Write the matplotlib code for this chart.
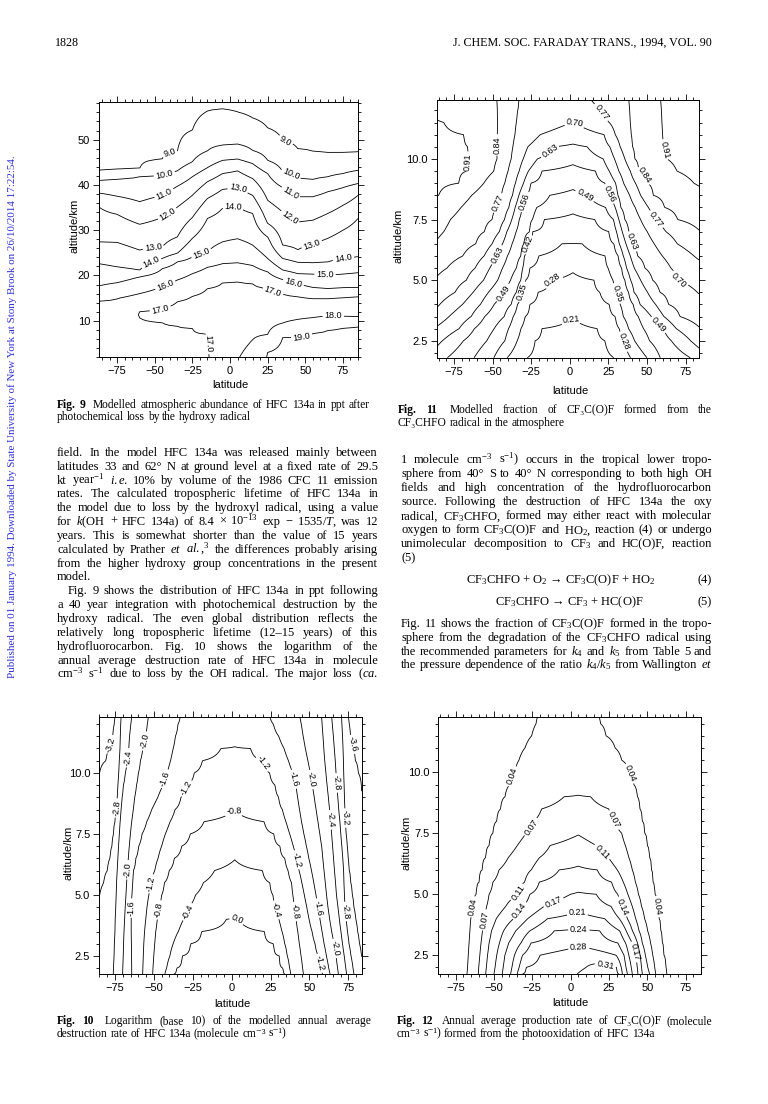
import numpy as np
import matplotlib
matplotlib.use("Agg")
import matplotlib.pyplot as plt
from matplotlib.ticker import MultipleLocator, FormatStrFormatter

plt.rcParams['font.family'] = ['Liberation Sans', 'DejaVu Sans']
plt.rcParams['mathtext.fontset'] = 'custom'
plt.rcParams['mathtext.rm'] = 'Liberation Serif'
plt.rcParams['mathtext.it'] = 'Liberation Serif:italic'
plt.rcParams['mathtext.bf'] = 'Liberation Serif:bold'
plt.rcParams['contour.negative_linestyle'] = 'solid'
SERIF = ['Liberation Serif', 'DejaVu Serif']
W, H = 768, 1104
N = None

# ---------------- Fig. 9 : HFC 134a abundance (ppt), column profiles ----------------
F9_LEVELS = [9, 10, 11, 12, 13, 14, 15, 16, 17, 18, 19]
F9_LAT = [-87, -75, -60, -45, -35, -25, -15, -5, 5, 15, 25, 35, 45, 55, 65, 75, 85]
F9_PROF_ALT = [
    [2, 14.4, 17.7, 22.6, 27.4, 35.1, 38.2, 41.0, 43.2, 58.3],
    [2, 14.9, 18.4, 21.9, 27.3, 33.5, 37.5, 41.25, 43.4, 58.3],
    [2, 10.7, 11.3, 12.0, 16.0, 19.7, 21.2, 25.6, 31.3, 36.3, 41.8, 43.6, 58.3],
    [2, 9.6, 11.2, 12.7, 17.5, 21.5, 23.75, 26.3, 32.8, 37.7, 42.1, 45.7, 58.3],
    [2, 8.8, 11.5, 14.2, 19.0, 23.0, 24.9, 28.5, 35.1, 39.7, 43.1, 47.3, 58.3],
    [2, 8.3, 12.0, 15.4, 20.4, 24.1, 28.2, 32.8, 37.7, 41.8, 45.1, 52.1, 58.3],
    [2, 7.0, 12.0, 17.1, 21.8, 25.2, 32.6, 37.0, 40.7, 43.8, 47.5, 56.3, 58.3],
    [2, 10.0, 18.4, 22.6, 27.4, 34.8, 39.0, 42.5, 45.4, 48.8, 56.8, 58.3],
    [2, 18.6, 22.8, 28.1, 35.3, 39.4, 43.1, 45.7, 49.0, 56.1, 58.3],
    [2, 5.8, 18.2, 22.2, 26.7, 33.7, 37.7, 41.4, 44.7, 47.6, 54.8, 58.3],
    [2, 3.0, 7.0, 17.1, 20.8, 23.75, 28.5, 31.5, 36.6, 42.5, 45.4, 52.6, 58.3],
    [2, 6.3, 9.5, 15.9, 19.1, 21.2, 23.75, 26.7, 34.0, 39.4, 42.9, 49.9, 58.3],
    [2, 6.4, 10.3, 15.3, 18.1, 20.4, 22.9, 25.7, 31.8, 37.4, 41.5, 48.0, 58.3],
    [2, 7.2, 10.7, 14.9, 17.35, 20.3, 22.8, 26.9, 32.2, 37.4, 41.2, 47.4, 58.3],
    [2, 7.9, 11.1, 14.9, 17.1, 20.1, 23.0, 28.2, 33.7, 38.5, 41.8, 47.1, 58.3],
    [2, 8.4, 11.0, 15.1, 17.3, 20.3, 23.75, 30.0, 35.5, 39.4, 42.5, 47.1, 58.3],
    [2, 8.7, 10.9, 15.3, 17.35, 20.6, 24.1, 32.6, 37.7, 40.3, 43.2, 47.3, 58.3],
]
F9_PROF_VAL = [
    [16.7, 16, 15, 14, 13, 12, 11, 10, 9, 8.4],
    [16.7, 16, 15, 14, 13, 12, 11, 10, 9, 8.4],
    [16.8, 17, 17.05, 17, 16, 15, 14, 13, 12, 11, 10, 9, 8.4],
    [16.8, 17, 17.15, 17, 16, 15, 14, 13, 12, 11, 10, 9, 8.5],
    [16.85, 17, 17.25, 17, 16, 15, 14, 13, 12, 11, 10, 9, 8.6],
    [16.9, 17, 17.35, 17, 16, 15, 14, 13, 12, 11, 10, 9, 8.7],
    [16.95, 17, 17.45, 17, 16, 15, 14, 13, 12, 11, 10, 9, 8.9],
    [17.4, 17.6, 17, 16, 15, 14, 13, 12, 11, 10, 9, 8.9],
    [17.95, 17, 16, 15, 14, 13, 12, 11, 10, 9, 8.85],
    [18.3, 18, 17, 16, 15, 14, 13, 12, 11, 10, 9, 8.7],
    [19.05, 19, 18, 17, 16, 15, 14, 13, 12, 11, 10, 9, 8.6],
    [19.3, 19, 18, 17, 16, 15, 14, 13, 12, 11, 10, 9, 8.5],
    [19.4, 19, 18, 17, 16, 15, 14, 13, 12, 11, 10, 9, 8.4],
    [19.5, 19, 18, 17, 16, 15, 14, 13, 12, 11, 10, 9, 8.4],
    [19.55, 19, 18, 17, 16, 15, 14, 13, 12, 11, 10, 9, 8.4],
    [19.6, 19, 18, 17, 16, 15, 14, 13, 12, 11, 10, 9, 8.4],
    [19.6, 19, 18, 17, 16, 15, 14, 13, 12, 11, 10, 9, 8.4],
]
F9_LABEL_POS = [(-39.8, 46.5), (36.5, 49.5), (-43.1, 41.8), (39.8, 41.8), (-44.2, 38.3),
                (39.8, 38.0), (5.5, 39.4), (-42.0, 33.8), (2.2, 35.3), (39.8, 32.9),
                (-50.9, 26.2), (54.2, 27.0), (75.2, 24.0), (-52.0, 22.6), (-18.8, 24.7),
                (63.1, 20.1), (-43.1, 17.9), (42.0, 18.3), (28.8, 16.7), (-46.5, 12.9),
                (68.6, 11.1), (47.6, 6.5), (-14.4, 5.0)]

# ---------------- Fig. 11 : fraction of CF3C(O)F, row profiles ----------------
F11_ALT = [1.8, 2.5, 3.0, 3.5, 4.0, 4.5, 5.0, 5.5, 6.0, 6.5, 7.0, 7.5, 8.0, 8.5, 9.0, 9.5,
           10.0, 10.5, 11.0, 11.5, 12.0, 12.43]
F11_LEVELS = [0.21, 0.28, 0.35, 0.42, 0.49, 0.56, 0.63, 0.70, 0.77, 0.84, 0.91]
F11_LEFT = {
    0.91: [N]*13 + [-84.9, -71.9, -66.5, -65.0, -66.1, -68.7, -81.6, N, N],
    0.84: [N]*10 + [-81.6, -77.3, -70.4, -63.5, -55.7, -49.2, -47.1, -47.1, -46.9, -46.7, -46.9, -47.1],
    0.77: [N]*7 + [-79.5, -69.3, -60.9, -55.3, -50.3, -47.1, -44.3, -42.1, -40.0, -38.0, -36.9,
                   -35.6, -34.8, -33.9, -33.0],
    0.70: [N]*4 + [-84.2, -74.3, -67.0, -61.3, -55.5, -50.3, -45.6, -42.3, -39.5, -37.1, -35.2,
                   -32.8, -30.2, -27.2, -19.2] + [N]*3,
    0.63: [N]*3 + [-78.2, -69.5, -62.6, -55.9, -51.8, -47.3, -43.6, -40.8, -37.6, -35.4, -33.0,
                   -30.0, -26.8, -21.0, -9.9] + [N]*4,
    0.56: [N] + [-82.5, -71.7, -63.9, -57.9, -52.7, -46.7, -43.6, -40.4, -37.4, -34.8, -32.8,
                 -30.9, -28.3, -25.3, -18.1] + [N]*6,
    0.49: [-79.3, -68.9, -61.8, -55.1, -49.0, -42.3, -38.4, -34.6, -31.7, -29.8, -26.1, -24.2,
           -21.4, -13.0] + [N]*8,
    0.42: [-62.0, -53.8, -49.0, -42.5, -38.0, -34.6, -31.7, -30.5, -29.4, -27.6, -24.0, -16.6] + [N]*10,
    0.35: [-49.2, -42.1, -39.7, -36.7, -33.9, -31.1, -28.7, -25.9, -20.1, -5.2] + [N]*12,
    0.28: [-40.6, -34.1, -31.7, -28.9, -25.9, -20.5, -11.2] + [N]*15,
    0.21: [-27.6, -22.5, -18.1] + [N]*19,
}
F11_RIGHT = {
    0.21: [28.5, 22.7, 17.7] + [N]*19,
    0.28: [39.3, 34.8, 32.0, 29.4, 25.5, 19.4, 15.6] + [N]*15,
    0.35: [49.9, 41.9, 38.0, 34.6, 32.6, 30.5, 27.9, 24.8, 22.9, 8.0] + [N]*12,
    0.42: [58.5, 51.6, 47.7, 44.3, 41.0, 38.0, 35.6, 33.5, 31.3, 28.5, 25.3, 16.2] + [N]*10,
    0.49: [78.0, 65.7, 60.5, 52.7, 45.4, 41.5, 39.3, 36.7, 34.6, 32.0, 30.2, 28.3, 23.1, 10.8] + [N]*8,
    0.56: [N] + [78.2, 68.9, 60.9, 55.5, 50.3, 45.8, 41.7, 39.1, 36.3, 33.9, 31.7, 29.4, 26.8,
                 22.7, 16.6] + [N]*6,
    0.63: [N]*3 + [71.3, 63.9, 58.3, 53.6, 48.6, 43.8, 40.8, 38.2, 35.6, 33.0, 31.1, 29.6, 25.5,
                   21.6, 11.2] + [N]*4,
    0.70: [N]*5 + [82.5, 70.6, 65.4, 59.8, 54.6, 50.1, 45.8, 42.3, 38.7, 34.8, 31.7, 28.9, 25.9,
                   22.2] + [N]*3,
    0.77: [N]*8 + [80.3, 69.5, 62.2, 55.3, 50.8, 45.8, 42.5, 39.1, 35.6, 32.6, 29.4, 25.5, 20.1, 13.8],
    0.84: [N]*11 + [69.8, 61.3, 54.0, 50.3, 44.7, 42.1, 40.6, 39.7, 39.1, 38.7, 38.2],
    0.91: [N]*14 + [80.3, 69.3, 62.9, 60.5, 60.0, 59.6, 59.2, 58.7],
}
F11_CENTER_LAT = 2.0
F11_CENTER = [0.16, 0.18, 0.195, 0.212, 0.23, 0.249, 0.267, 0.288, 0.318, 0.349, 0.378, 0.405,
              0.437, 0.474, 0.508, 0.541, 0.577, 0.621, 0.661, 0.698, 0.725, 0.745]
F11_EDGE_L = [0.53, 0.575, 0.62, 0.67, 0.71, 0.74, 0.763, 0.785, 0.81, 0.835, 0.85, 0.865, 0.885,
              0.911, 0.92, 0.925, 0.927, 0.925, 0.92, 0.913, 0.90, 0.89]
F11_EDGE_R = [0.52, 0.59, 0.625, 0.66, 0.68, 0.703, 0.725, 0.75, 0.78, 0.81, 0.837, 0.86, 0.877,
              0.895, 0.915, 0.93, 0.94, 0.945, 0.95, 0.95, 0.95, 0.95]
F11_LABEL_POS = [(2.6, 11.47), (21.0, 11.95), (-66.5, 9.9), (-47.1, 10.58), (-14.0, 10.4),
                 (47.0, 9.27), (60.9, 10.37), (-46.0, 8.17), (-29.8, 8.24), (10.2, 8.55),
                 (26.3, 8.59), (55.5, 7.49), (-27.6, 6.52), (-47.1, 6.04), (40.4, 6.59),
                 (-11.4, 5.01), (70.6, 5.01), (-42.8, 4.46), (-30.9, 4.53), (30.7, 4.46),
                 (0.4, 3.43), (57.5, 3.16), (35.0, 2.47)]

# ---------------- Fig. 10 : log10 destruction rate, row profiles ----------------
F10_ALT = [1.76, 2.0, 2.5, 3.0, 3.5, 4.0, 4.5, 5.0, 5.5, 6.0, 6.5, 7.0, 7.5, 8.0, 8.5, 9.0,
           9.5, 10.0, 10.5, 11.0, 11.5, 12.0, 12.29]
F10_LEVELS = [-3.6, -3.2, -2.8, -2.4, -2.0, -1.6, -1.2, -0.8, -0.4, 0.0]
F10_LEFT = {
    -3.2: [N]*17 + [-84.9, -80.8, -78.2, -76.3, -75.4, -75.0],
    -2.8: [N]*7 + [-84.9, -82.3, -79.9, -78.2, -76.9, -75.9, -75.0, -74.1, -73.5, -73.1, -72.6,
                   -72.2, -71.8, -71.6, -71.4, -71.1],
    -2.4: [-76.1, -75.9, -75.6, -75.3, -75.0, -74.8, -74.5, -74.2, -74.0, -73.6, -73.2, -72.8,
           -72.3, -71.8, -71.1, -70.5, -69.6, -68.4, -67.1, -66.2, -65.7, -64.9, -64.3],
    -2.0: [-70.1, -70.0, -69.7, -69.5, -69.2, -68.8, -68.4, -67.9, -67.5, -67.0, -66.4, -65.8,
           -65.1, -64.3, -63.3, -62.4, -61.2, -60.0, -58.7, -57.2, -55.3, -54.3, -53.6],
    -1.6: [-64.3, -64.3, -64.4, -64.5, -64.6, -64.6, -64.7, -64.2, -63.7, -63.2, -61.6, -59.8,
           -57.6, -54.6, -51.4, -47.5, -44.1, -41.4, -39.3, -37.6, -36.2, -34.5, -33.2],
    -1.2: [-57.2, -57.1, -56.8, -56.5, -56.0, -55.2, -54.4, -53.2, -51.9, -49.4, -47.3, -45.0,
           -42.6, -39.6, -36.4, -32.6, -28.6, -24.0, -18.8, -6.9] + [N]*3,
    -0.8: [-50.8, -50.6, -50.1, -49.5, -48.9, -47.9, -46.8, -45.0, -43.3, -40.2, -36.9, -32.1,
           -26.6, -17.8] + [N]*9,
    -0.4: [-42.9, -41.8, -39.7, -37.6, -34.3, -31.0, -27.4, -23.2, -18.2, -11.0] + [N]*13,
    0.0: [-37.1, -35.4, -31.8, -26.4, -19.3, -3.4] + [N]*17,
}
F10_RIGHT = {
    0.0: [34.3, 33.0, 30.6, 26.9, 21.0, 4.5] + [N]*17,
    -0.4: [37.9, 37.2, 35.7, 34.1, 32.4, 30.4, 28.5, 26.5, 24.5, 19.8] + [N]*13,
    -0.8: [46.1, 45.6, 44.6, 43.5, 42.5, 41.4, 40.4, 39.4, 38.5, 36.3, 34.2, 31.0, 27.1, 20.9] + [N]*9,
    -1.2: [58.5, 57.5, 55.6, 53.6, 51.7, 49.8, 48.3, 46.7, 45.1, 43.3, 41.6, 39.6, 37.3, 34.9,
           32.6, 30.2, 27.9, 24.4, 19.9, 12.2] + [N]*3,
    -1.6: [63.2, 62.4, 60.9, 59.4, 58.1, 56.8, 55.6, 54.2, 52.8, 51.3, 49.6, 48.0, 46.4, 44.9,
           43.6, 42.4, 41.3, 39.3, 36.5, 33.7, 30.3, 26.8, 24.6],
    -2.0: [68.6, 68.1, 67.1, 65.9, 64.3, 63.0, 61.9, 61.0, 60.2, 59.4, 58.6, 57.9, 56.7, 55.5,
           54.3, 53.1, 51.9, 50.6, 49.0, 47.4, 46.0, 44.8, 43.9],
    -2.4: [73.9, 73.4, 72.4, 71.3, 70.3, 69.3, 68.4, 67.4, 66.8, 66.1, 65.5, 64.9, 64.3, 63.7,
           63.0, 62.2, 61.4, 60.6, 59.9, 59.3, 58.8, 58.2, 57.9],
    -2.8: [78.6, 78.0, 76.7, 75.4, 74.4, 73.5, 72.8, 72.5, 72.2, 72.0, 71.5, 70.9, 70.2, 69.6,
           68.9, 68.3, 67.6, 67.1, 66.6, 66.0, 65.4, 64.7, 64.3],
    -3.2: [N]*2 + [83.5, 82.2, 81.0, 79.8, 78.6, 77.6, 76.6, 75.6, 74.8, 74.2, 73.6, 73.0, 72.7,
                   72.4, 72.2, 72.0, 71.8, 71.6, 71.3, 70.9, 70.7],
    -3.6: [N]*16 + [83.4, 81.4, 79.5, 77.7, 76.2, 75.6, 75.0],
}
F10_CENTER_LAT = 2.0
F10_CENTER = [0.30, 0.27, 0.20, 0.14, 0.08, 0.01, -0.07, -0.16, -0.24, -0.33, -0.41, -0.51,
              -0.61, -0.71, -0.81, -0.89, -0.96, -1.03, -1.11, -1.19, -1.26, -1.33, -1.37]
F10_EDGE_L = [-2.6, -2.62, -2.64, -2.67, -2.7, -2.74, -2.77, -2.81, -2.86, -2.9, -2.95, -3.0,
              -3.04, -3.08, -3.11, -3.14, -3.17, -3.205, -3.25, -3.3, -3.34, -3.38, -3.4]
F10_EDGE_R = [-3.1, -3.13, -3.205, -3.25, -3.29, -3.33, -3.37, -3.4, -3.43, -3.46, -3.49, -3.51,
              -3.53, -3.55, -3.57, -3.59, -3.61, -3.63, -3.65, -3.67, -3.69, -3.71, -3.72]
F10_LABEL_POS = [(-77.1, 11.16), (-66.9, 10.62), (-55.7, 11.3), (-42.4, 9.75), (-29.6, 9.38),
                 (-73.9, 8.56), (1.1, 8.45), (21.0, 10.41), (40.7, 9.75), (51.4, 9.73),
                 (67.5, 9.59), (77.1, 11.16), (63.6, 8.08), (72.9, 8.15), (-67.1, 6.03),
                 (-52.1, 5.46), (41.8, 6.44), (-64.7, 4.46), (-47.1, 4.39), (-28.9, 4.32),
                 (3.2, 3.95), (28.9, 4.39), (40.7, 4.32), (55.7, 4.46), (72.9, 4.32),
                 (66.4, 2.81), (56.8, 2.2)]

# ---------------- Fig. 12 : production rate of CF3C(O)F, row profiles ----------------
F12_ALT = [1.73, 2.0, 2.5, 3.0, 3.5, 4.0, 4.5, 5.0, 5.5, 6.0, 6.5, 7.0, 7.5, 8.0, 8.5, 9.0,
           9.5, 10.0, 10.5, 11.0, 11.5, 12.0, 12.27]
F12_LEVELS = [0.035, 0.07, 0.105, 0.14, 0.175, 0.21, 0.245, 0.28, 0.315]
F12_LABELS = ["0.04", "0.07", "0.11", "0.14", "0.17", "0.21", "0.24", "0.28", "0.31"]
F12_LEFT = {
    0.035: [-67.4, -67.1, -66.7, -66.1, -65.5, -64.9, -63.3, -61.5, -59.6, -57.6, -55.4, -53.1,
            -50.7, -48.2, -45.7, -42.8, -39.5, -36.5, -33.7, -29.8, -25.4, -22.5, -21.7],
    0.07: [-60.2, -59.9, -59.2, -58.4, -57.4, -56.3, -54.8, -53.2, -50.7, -46.7, -40.7, -34.8,
           -29.0, -23.9, -18.9, -4.3] + [N]*7,
    0.105: [-55.4, -55.0, -54.2, -53.2, -51.6, -48.5, -42.4, -34.3, -30.0, -25.7, -20.4, -13.4] + [N]*11,
    0.14: [-50.0, -49.3, -48.2, -46.4, -43.7, -37.2, -31.0, -26.6, -20.5, -7.5] + [N]*13,
    0.175: [-44.6, -44.0, -42.9, -40.4, -35.8, -28.0, -17.4, -0.1] + [N]*15,
    0.21: [-39.1, -38.3, -36.6, -32.4, -26.6, -15.0] + [N]*17,
    0.245: [-34.8, -33.6, -31.4, -25.9, -10.7] + [N]*18,
    0.28: [-31.5, -29.1, -20.0] + [N]*20,
    0.315: [4.3, 10.0] + [N]*21,
}
F12_RIGHT = {
    0.315: [31.5, 30.1] + [N]*21,
    0.28: [33.7, 33.0, 29.6] + [N]*20,
    0.245: [37.0, 36.1, 34.8, 30.8, 19.0] + [N]*18,
    0.21: [40.2, 39.5, 37.9, 35.8, 32.0, 22.2] + [N]*17,
    0.175: [43.9, 43.5, 42.6, 40.1, 36.2, 31.7, 26.4, 16.7] + [N]*15,
    0.14: [46.7, 46.2, 45.3, 43.6, 40.3, 37.0, 33.7, 30.7, 26.7, 17.4] + [N]*13,
    0.105: [51.5, 50.3, 48.7, 46.7, 44.6, 42.4, 40.2, 37.3, 34.3, 30.4, 24.6, 16.7] + [N]*11,
    0.07: [55.4, 54.8, 53.5, 52.1, 50.2, 48.2, 46.2, 44.2, 42.2, 40.2, 38.0, 35.7, 33.3, 28.7,
           24.9, 13.0] + [N]*7,
    0.035: [62.6, 62.0, 60.8, 59.8, 58.8, 57.6, 56.5, 54.9, 53.7, 52.7, 51.4, 49.9, 48.3, 46.7,
            45.1, 43.5, 41.2, 38.7, 33.3, 29.0, 23.0, 19.4, 18.5],
}
F12_CENTER_LAT = [18, 18, 10] + [5]*20
F12_CENTER = [0.33, 0.325, 0.305, 0.27, 0.249, 0.222, 0.20, 0.178, 0.16, 0.144, 0.131, 0.118,
              0.103, 0.092, 0.082, 0.071, 0.063, 0.057, 0.052, 0.049, 0.047, 0.046, 0.045]
F12_EDGE_L = [0.02]*23
F12_EDGE_R = [0.02]*23
F12_LABEL_POS = [(-37.4, 9.82), (39.1, 9.96), (-26.1, 7.77), (28.3, 8.05), (20.7, 6.75),
                 (-33.7, 5.04), (-62.6, 4.43), (56.5, 4.49), (-32.6, 4.29), (-10.9, 4.63),
                 (4.3, 4.29), (33.7, 4.49), (-56.5, 3.95), (5.4, 3.61), (5.4, 2.92),
                 (42.4, 2.65), (22.8, 2.15)]

# ---------------- page text ----------------
HEADER_LEFT = "1828"
HEADER_RIGHT = "J. CHEM. SOC. FARADAY TRANS., 1994, VOL. 90"
WATERMARK = ("Published on 01 January 1994. Downloaded by State University of New York at "
             "Stony Brook on 26/10/2014 17:22:54.")
LEFT_TEXT = [
    ("field. In the model HFC 134a was released mainly between", True, 0),
    ("latitudes 33 and 62° N at ground level at a fixed rate of 29.5", True, 0),
    (r"kt year$^{-1}$ $\mathit{i.e.}$ 10% by volume of the 1986 CFC 11 emission", True, 0),
    ("rates. The calculated tropospheric lifetime of HFC 134a in", True, 0),
    ("the model due to loss by the hydroxyl radical, using a value", True, 0),
    (r"for $k$(OH + HFC 134a) of 8.4 × 10$^{-13}$ exp − 1535/$T$, was 12", True, 0),
    ("years. This is somewhat shorter than the value of 15 years", True, 0),
    (r"calculated by Prather $\mathit{et}$ $\mathit{al.}$,$^3$ the differences probably arising", True, 0),
    ("from the higher hydroxy group concentrations in the present", True, 0),
    ("model.", False, 0),
    ("Fig. 9 shows the distribution of HFC 134a in ppt following", True, 11),
    ("a 40 year integration with photochemical destruction by the", True, 0),
    ("hydroxy radical. The even global distribution reflects the", True, 0),
    ("relatively long tropospheric lifetime (12–15 years) of this", True, 0),
    ("hydrofluorocarbon. Fig. 10 shows the logarithm of the", True, 0),
    ("annual average destruction rate of HFC 134a in molecule", True, 0),
    (r"cm$^{-3}$ s$^{-1}$ due to loss by the OH radical. The major loss ($\mathit{ca.}$", True, 0),
]
RIGHT_TEXT = [
    (r"1 molecule cm$^{-3}$ s$^{-1}$) occurs in the tropical lower tropo-", True, 459.0),
    ("sphere from 40° S to 40° N corresponding to both high OH", True, 473.2),
    ("fields and high concentration of the hydrofluorocarbon", True, 487.3),
    ("source. Following the destruction of HFC 134a the oxy", True, 501.3),
    (r"radical, CF$_3$CHFO, formed may either react with molecular", True, 515.3),
    (r"oxygen to form CF$_3$C(O)F and HO$_2$, reaction (4) or undergo", True, 529.3),
    (r"unimolecular decomposition to CF$_3$ and HC(O)F, reaction", True, 543.3),
    ("(5)", False, 556.8),
    (r"Fig. 11 shows the fraction of CF$_3$C(O)F formed in the tropo-", True, 622.7),
    (r"sphere from the degradation of the CF$_3$CHFO radical using", True, 636.7),
    (r"the recommended parameters for $k_4$ and $k_5$ from Table 5 and", True, 650.7),
    (r"the pressure dependence of the ratio $k_4/k_5$ from Wallington $\mathit{et}$", True, 664.3),
]
EQ4 = r"CF$_3$CHFO + O$_2$ → CF$_3$C(O)F + HO$_2$"
EQ5 = r"CF$_3$CHFO → CF$_3$ + HC(O)F"
CAPTIONS = [
    ("Fig. 9 Modelled atmospheric abundance of HFC 134a in ppt after",
     "photochemical loss by the hydroxy radical", 57, 370, 404.0),
    ("Fig. 11 Modelled fraction of CF₃C(O)F formed from the",
     "CF₃CHFO radical in the atmosphere", 398, 712, 409.5),
    ("Fig. 10 Logarithm (base 10) of the modelled annual average",
     "destruction rate of HFC 134a (molecule cm⁻³ s⁻¹)", 57, 371, 1020.5),
    ("Fig. 12 Annual average production rate of CF₃C(O)F (molecule",
     "cm⁻³ s⁻¹) formed from the photooxidation of HFC 134a", 397, 712, 1020.5),
]

# ================= drawing =================
fig = plt.figure(figsize=(W / 100, H / 100), dpi=100)
fig.patch.set_facecolor('white')
renderer = fig.canvas.get_renderer()


def panel(box, xlim, ylim, ymaj, ymin, yfmt):
    l, t, r, b = box
    ax = fig.add_axes([l / W, 1 - b / H, (r - l) / W, (b - t) / H])
    ax.set_xlim(*xlim)
    ax.set_ylim(*ylim)
    ax.xaxis.set_major_locator(MultipleLocator(25))
    ax.xaxis.set_minor_locator(MultipleLocator(5))
    ax.yaxis.set_major_locator(MultipleLocator(ymaj))
    ax.yaxis.set_minor_locator(MultipleLocator(ymin))
    ax.yaxis.set_major_formatter(FormatStrFormatter(yfmt))
    ax.tick_params(which='both', direction='out', top=True, right=True, width=0.6, labelsize=8)
    ax.tick_params(which='major', length=4.5, pad=2)
    ax.tick_params(which='minor', length=2.5)
    for s in ax.spines.values():
        s.set_linewidth(0.7)
    return ax


def column_field(alt_grid, prof_alt, prof_val):
    Z = np.empty((len(alt_grid), len(prof_alt)))
    for j, (a, v) in enumerate(zip(prof_alt, prof_val)):
        Z[:, j] = np.interp(alt_grid, a, v)
    return Z


def row_field(lat_grid, n_rows, left, right, c_lat, c_val, e_l, e_r):
    Z = np.empty((n_rows, len(lat_grid)))
    for i in range(n_rows):
        cl = c_lat[i] if isinstance(c_lat, list) else c_lat
        pts = [(lat_grid[0], e_l[i]), (lat_grid[-1], e_r[i]), (cl, c_val[i])]
        for side in (left, right):
            for lv, arr in side.items():
                if arr[i] is not None:
                    pts.append((arr[i], lv))
        pts.sort()
        xs, vs = zip(*pts)
        Z[i] = np.interp(lat_grid, xs, vs)
    return Z


def draw_contours(ax, X, Y, Z, levels, fmt, pos):
    cs = ax.contour(X, Y, Z, levels=levels, colors='black', linewidths=0.6,
                    linestyles='solid')
    ax.clabel(cs, levels, fmt=fmt, manual=pos, inline=True, fontsize=6.5, inline_spacing=2)


def axis_labels(xc, yc, xl_x, xl_y):
    fig.text(xc / W, 1 - yc / H, "latitude", fontsize=8, ha='center', va='center')
    fig.text(xl_x / W, 1 - xl_y / H, "altitude/km", fontsize=8, ha='center', va='center',
             rotation=90)


# Fig 9
ax9 = panel((99, 102, 358, 357), (-87, 85), (2.0, 58.3), 10, 2, '%d')
alt9 = np.linspace(2.0, 58.3, 226)
Z9 = column_field(alt9, F9_PROF_ALT, F9_PROF_VAL)
draw_contours(ax9, F9_LAT, alt9, Z9, F9_LEVELS, '%1.1f', F9_LABEL_POS)
axis_labels(230, 385, 74, 226)

# Fig 11
ax11 = panel((437, 100, 699, 358), (-86, 83.6), (1.79, 12.43), 2.5, 0.5, '%.1f')
lat11 = np.linspace(-86, 83.6, 340)
Z11 = row_field(lat11, len(F11_ALT), F11_LEFT, F11_RIGHT, F11_CENTER_LAT, F11_CENTER,
                F11_EDGE_L, F11_EDGE_R)
draw_contours(ax11, lat11, F11_ALT, Z11, F11_LEVELS, '%1.2f', F11_LABEL_POS)
axis_labels(570, 391, 399, 236)

# Fig 10
ax10 = panel((99.3, 717, 361.7, 974), (-85.1, 83.6), (1.76, 12.29), 2.5, 0.5, '%.1f')
lat10 = np.linspace(-85.1, 83.6, 338)
Z10 = row_field(lat10, len(F10_ALT), F10_LEFT, F10_RIGHT, F10_CENTER_LAT, F10_CENTER,
                F10_EDGE_L, F10_EDGE_R)
draw_contours(ax10, lat10, F10_ALT, Z10, F10_LEVELS, '%1.1f', F10_LABEL_POS)
axis_labels(232, 1004, 68, 853)

# Fig 12
ax12 = panel((438.3, 717, 700.7, 974), (-86.3, 84.8), (1.73, 12.27), 2.5, 0.5, '%.1f')
lat12 = np.linspace(-86.3, 84.8, 343)
Z12 = row_field(lat12, len(F12_ALT), F12_LEFT, F12_RIGHT, F12_CENTER_LAT, F12_CENTER,
                F12_EDGE_L, F12_EDGE_R)
draw_contours(ax12, lat12, F12_ALT, Z12, F12_LEVELS, dict(zip(F12_LEVELS, F12_LABELS)),
              F12_LABEL_POS)
axis_labels(570, 1003, 406, 843)


# ---------------- text helpers ----------------
def measure(s, size, **kw):
    t = fig.text(0, 0, s, fontsize=size, family=SERIF, **kw)
    w = t.get_window_extent(renderer=renderer).width
    t.remove()
    return w


def put(x, yb, s, size, **kw):
    return fig.text(x / W, 1 - yb / H, s, fontsize=size, family=SERIF, va='baseline', **kw)


def text_line(s, x0, x1, yc, size, justify=True, indent=0.0, bold=0, extra=0.0):
    words = s.split()
    props = [{'fontweight': 'bold'} if k < bold else {} for k in range(len(words))]
    widths = [measure(w, size, **p) for w, p in zip(words, props)]
    yb = yc + 0.33 * size * 100 / 72
    if justify and len(words) > 1:
        gap = (x1 - x0 - indent - extra - sum(widths)) / (len(words) - 1)
    else:
        gap = measure('a a', size) - measure('aa', size)
    x = x0 + indent
    for k, (w, p, wd) in enumerate(zip(words, props, widths)):
        put(x, yb, w, size, **p)
        x += wd + gap + (extra if k == bold - 1 else 0)


def fitted(s, width, base=9.0):
    return base * width / measure(s, base)


# header
hs = fitted(HEADER_RIGHT, 260)
put(55, 42 + 0.33 * hs * 100 / 72, HEADER_LEFT, hs)
put(712, 42 + 0.33 * hs * 100 / 72, HEADER_RIGHT, hs, ha='right')

# watermark
ws = fitted(WATERMARK, 525)
fig.text(12 / W, 1 - 417 / H, WATERMARK, fontsize=ws, family=SERIF, color='#3030d8',
         rotation=90, ha='center', va='center')

# body text
BODY = 9.0
for k, (s, just, ind) in enumerate(LEFT_TEXT):
    text_line(s, 57, 378, 451.7 + 13.85 * k, BODY, justify=just, indent=ind)
for s, just, yc in RIGHT_TEXT:
    text_line(s, 401, 712, yc, BODY, justify=just)

# equations
eq_y4, eq_y5 = 579.3, 601.7
fig.text(561 / W, 1 - (eq_y4 + 4) / H, EQ4, fontsize=BODY, family=SERIF, ha='center', va='baseline')
fig.text(569 / W, 1 - (eq_y5 + 4) / H, EQ5, fontsize=BODY, family=SERIF, ha='center', va='baseline')
put(712, eq_y4 + 4, "(4)", BODY, ha='right')
put(712, eq_y5 + 4, "(5)", BODY, ha='right')

# captions
CAP = 8.3
for l1, l2, x0, x1, yc in CAPTIONS:
    text_line(l1, x0, x1, yc, CAP, justify=True, bold=2, extra=4)
    text_line(l2, x0, x1, yc + 12.3, CAP, justify=False)

fig.savefig("out.png", dpi=100, facecolor='white')
